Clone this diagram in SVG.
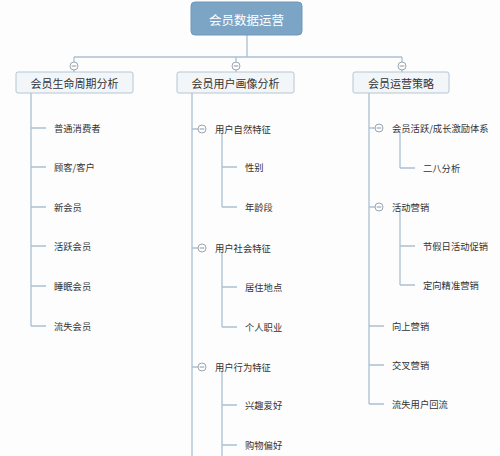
<svg xmlns="http://www.w3.org/2000/svg" width="500" height="456" viewBox="0 0 500 456">
<defs>
<style>
.ln{stroke:#aac0d2;stroke-width:1.3;fill:none}
.b1{fill:#f3f6f9;stroke:#b3c6d6;stroke-width:1}
.t{font-family:"Noto Sans CJK SC","Noto Sans CJK JP",sans-serif;fill:#333;dominant-baseline:central}
.t1{font-size:11px;text-anchor:middle}
.t2{font-size:9.3px}
.cc{fill:#fff;stroke:#9aa6b0;stroke-width:1}
.cm{stroke:#8a96a0;stroke-width:1}
</style>
<g id="col"><circle class="cc" r="4"/><line class="cm" x1="-2.3" y1="0" x2="2.3" y2="0"/></g>
</defs>
<rect width="500" height="456" fill="#fdfdfd"/>
<g id="connectors">
<path class="ln" d="M247 35V57M74 57H402M74 57V72M236 57V72M402 57V72"/>
<path class="ln" d="M31 93V326M31 128H46M31 167H46M31 207H46M31 246H46M31 286H46M31 326H46"/>
<path class="ln" d="M192 93V456M192 129H198M192 248H198M192 367H198"/>
<path class="ln" d="M222 134V207M222 167H237M222 207H237M222 253V327M222 287H237M222 327H237M222 372V456M222 405H237M222 445H237"/>
<path class="ln" d="M369 92V404M369 128H375M369 207H375M369 326H384M369 365H384M369 404H384"/>
<path class="ln" d="M400 133V168M400 168H415M400 212V285M400 246H415M400 285H415"/>
</g>
<g id="root">
<rect x="191" y="2" width="111" height="33" rx="4" fill="#7ca4c5" stroke="#6f98ba"/>
<text class="t" x="246.5" y="19" font-size="12.5" text-anchor="middle" fill="#fff" style="fill:#fff">会员数据运营</text>
</g>
<g id="n-lifecycle">
<rect class="b1" x="16" y="72" width="117" height="21" rx="2"/>
<text class="t t1" x="74.5" y="82.5">会员生命周期分析</text>
<use href="#col" x="74" y="66"/>
</g>
<g id="n-portrait">
<rect class="b1" x="177" y="72" width="117" height="21" rx="2"/>
<text class="t t1" x="235.5" y="82.5">会员用户画像分析</text>
<use href="#col" x="236" y="66"/>
</g>
<g id="n-strategy">
<rect class="b1" x="353" y="72" width="96" height="21" rx="2"/>
<text class="t t1" x="401" y="82.5">会员运营策略</text>
<use href="#col" x="402" y="66"/>
</g>
<g id="lifecycle-children">
<text class="t t2" x="54" y="128">普通消费者</text>
<text class="t t2" x="54" y="167">顾客/客户</text>
<text class="t t2" x="54" y="207">新会员</text>
<text class="t t2" x="54" y="246">活跃会员</text>
<text class="t t2" x="54" y="286">睡眠会员</text>
<text class="t t2" x="54" y="326">流失会员</text>
</g>
<g id="n-natural"><use href="#col" x="202" y="129"/><text class="t t2" x="215" y="129">用户自然特征</text></g>
<g id="n-gender"><text class="t t2" x="245" y="167">性别</text></g>
<g id="n-age"><text class="t t2" x="245" y="207">年龄段</text></g>
<g id="n-social"><use href="#col" x="202" y="248"/><text class="t t2" x="215" y="248">用户社会特征</text></g>
<g id="n-home"><text class="t t2" x="245" y="287">居住地点</text></g>
<g id="n-job"><text class="t t2" x="245" y="327">个人职业</text></g>
<g id="n-behavior"><use href="#col" x="202" y="367"/><text class="t t2" x="215" y="367">用户行为特征</text></g>
<g id="n-interest"><text class="t t2" x="245" y="405">兴趣爱好</text></g>
<g id="n-shopping"><text class="t t2" x="245" y="445">购物偏好</text></g>
<g id="n-incentive"><use href="#col" x="379" y="128"/><text class="t t2" x="392" y="128">会员活跃/成长激励体系</text></g>
<g id="n-2080"><text class="t t2" x="423" y="168">二八分析</text></g>
<g id="n-campaign"><use href="#col" x="379" y="207"/><text class="t t2" x="392" y="207">活动营销</text></g>
<g id="n-holiday"><text class="t t2" x="423" y="246">节假日活动促销</text></g>
<g id="n-precise"><text class="t t2" x="423" y="285">定向精准营销</text></g>
<g id="n-upsell"><text class="t t2" x="392" y="326">向上营销</text></g>
<g id="n-cross"><text class="t t2" x="392" y="365">交叉营销</text></g>
<g id="n-winback"><text class="t t2" x="392" y="404">流失用户回流</text></g>
</svg>
